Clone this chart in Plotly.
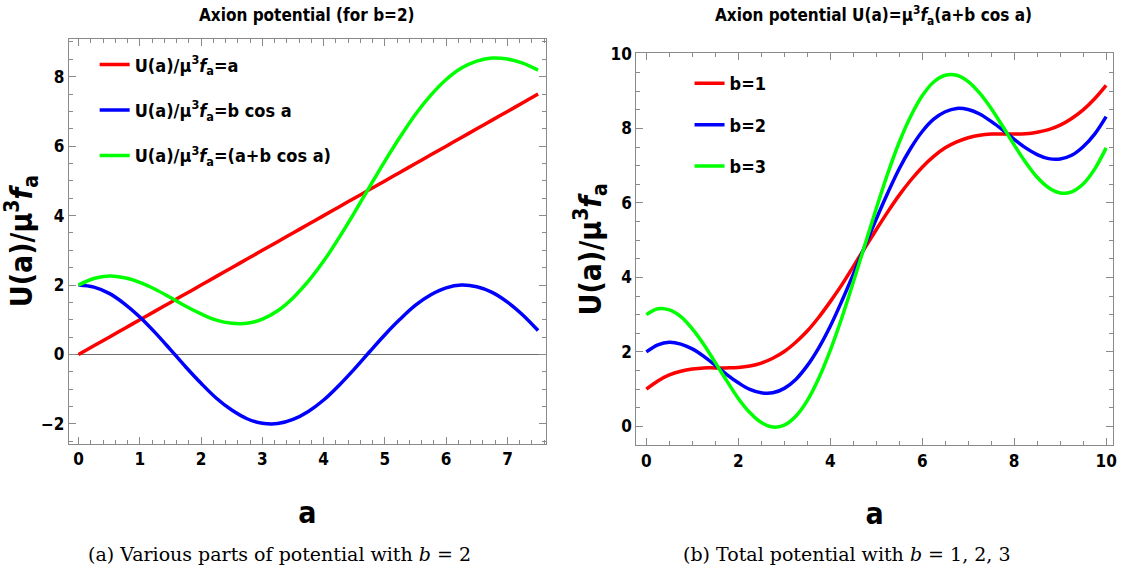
import plotly.graph_objects as go

# ---------------- data ----------------
# Left panel (b = 2)
a_left = [0.0, 0.25, 0.5, 0.75, 1.0, 1.25, 1.5, 1.75, 2.0, 2.25, 2.5, 2.75, 3.0, 3.25, 3.5, 3.75,
          4.0, 4.25, 4.5, 4.75, 5.0, 5.25, 5.5, 5.75, 6.0, 6.25, 6.5, 6.75, 7.0, 7.25, 7.5]
u_linear = [0.0, 0.25, 0.5, 0.75, 1.0, 1.25, 1.5, 1.75, 2.0, 2.25, 2.5, 2.75, 3.0, 3.25, 3.5, 3.75,
            4.0, 4.25, 4.5, 4.75, 5.0, 5.25, 5.5, 5.75, 6.0, 6.25, 6.5, 6.75, 7.0, 7.25, 7.5]
u_cos = [2.00, 1.94, 1.76, 1.46, 1.08, 0.63, 0.14, -0.36, -0.83, -1.26, -1.60, -1.85, -1.98, -1.99,
         -1.87, -1.64, -1.31, -0.89, -0.42, 0.08, 0.57, 1.02, 1.42, 1.72, 1.92, 2.00, 1.95, 1.79,
         1.51, 1.14, 0.69]
u_total = [2.00, 2.19, 2.26, 2.21, 2.08, 1.88, 1.64, 1.39, 1.17, 0.99, 0.90, 0.90, 1.02, 1.26,
           1.63, 2.11, 2.69, 3.36, 4.08, 4.83, 5.57, 6.27, 6.92, 7.47, 7.92, 8.25, 8.45, 8.54,
           8.51, 8.39, 8.19]
names_left = ["U(a)/μ<sup>3</sup><i>f</i><sub>a</sub>=a",
              "U(a)/μ<sup>3</sup><i>f</i><sub>a</sub>=b cos a",
              "U(a)/μ<sup>3</sup><i>f</i><sub>a</sub>=(a+b cos a)"]
xticks_left = [0, 1, 2, 3, 4, 5, 6, 7]
yticks_left = [-2, 0, 2, 4, 6, 8]

# Right panel (b = 1, 2, 3)
a_right = [0.0, 0.25, 0.5, 0.75, 1.0, 1.25, 1.5, 1.75, 2.0, 2.25, 2.5, 2.75, 3.0, 3.25, 3.5, 3.75,
           4.0, 4.25, 4.5, 4.75, 5.0, 5.25, 5.5, 5.75, 6.0, 6.25, 6.5, 6.75, 7.0, 7.25, 7.5, 7.75,
           8.0, 8.25, 8.5, 8.75, 9.0, 9.25, 9.5, 9.75, 10.0]
u_b1 = [1.00, 1.22, 1.38, 1.48, 1.54, 1.57, 1.57, 1.57, 1.58, 1.62, 1.70, 1.83, 2.01, 2.26, 2.56,
        2.93, 3.35, 3.80, 4.29, 4.79, 5.28, 5.76, 6.21, 6.61, 6.96, 7.25, 7.48, 7.64, 7.75, 7.82,
        7.85, 7.85, 7.85, 7.86, 7.90, 7.97, 8.09, 8.27, 8.50, 8.80, 9.16]
u_b2 = [2.00, 2.19, 2.26, 2.21, 2.08, 1.88, 1.64, 1.39, 1.17, 0.99, 0.90, 0.90, 1.02, 1.26, 1.63,
        2.11, 2.69, 3.36, 4.08, 4.83, 5.57, 6.27, 6.92, 7.47, 7.92, 8.25, 8.45, 8.54, 8.51, 8.39,
        8.19, 7.96, 7.71, 7.48, 7.30, 7.19, 7.18, 7.28, 7.51, 7.85, 8.32]
u_b3 = [3.00, 3.16, 3.13, 2.95, 2.62, 2.20, 1.71, 1.22, 0.75, 0.37, 0.10, -0.02, 0.03, 0.27, 0.69,
        1.29, 2.04, 2.91, 3.87, 4.86, 5.85, 6.79, 7.63, 8.33, 8.88, 9.25, 9.43, 9.43, 9.26, 8.95,
        8.54, 8.06, 7.56, 7.09, 6.69, 6.41, 6.27, 6.30, 6.51, 6.91, 7.48]
names_right = ["b=1", "b=2", "b=3"]
xticks_right = [0, 2, 4, 6, 8, 10]
yticks_right = [0, 2, 4, 6, 8, 10]

colors = ["#ff0000", "#0000ff", "#00ff00"]

# ---------------- figure ----------------
W, H = 1126, 572
SANS = "DejaVu Sans Condensed, Roboto, Liberation Sans, sans-serif"
SERIF = "DejaVu Serif, Liberation Serif, serif"
FRAME = "#8a8a8a"

fig = go.Figure()

for i, (ys, nm) in enumerate(zip([u_linear, u_cos, u_total], names_left)):
    fig.add_trace(go.Scatter(x=a_left, y=ys, mode="lines", name=nm,
                             line=dict(color=colors[i], width=3.5, shape="spline", smoothing=1.0),
                             xaxis="x", yaxis="y", legend="legend", legendgroup="L%d" % i))

for i, (ys, nm) in enumerate(zip([u_b1, u_b2, u_b3], names_right)):
    fig.add_trace(go.Scatter(x=a_right, y=ys, mode="lines", name=nm,
                             line=dict(color=colors[i], width=3.5, shape="spline", smoothing=1.0),
                             xaxis="x2", yaxis="y2", legend="legend2", legendgroup="R%d" % i))


def px_x(p):
    return p / W


def px_y(p):
    return 1 - p / H


def bold_labels(vals):
    return ["<b>%s</b>" % ("\u2212%d" % -v if v < 0 else "%d" % v) for v in vals]


tickfont = dict(family=SANS, size=17, color="black")
axis_common = dict(showline=True, mirror="allticks", linecolor=FRAME, linewidth=1,
                   ticks="inside", tickcolor=FRAME, ticklen=7, tickwidth=1,
                   showgrid=False, tickfont=tickfont, fixedrange=True, tickmode="array")
ytitle_font = dict(family=SANS, size=30, color="black")
xtitle_font = dict(family=SANS, size=30, color="black")
ytitle = "<b>U(a)/μ<sup>3</sup><i>f</i><sub>a</sub></b>"
legend_font = dict(family=SANS, size=18, color="black", weight="bold")

fig.update_layout(
    width=W, height=H,
    margin=dict(l=0, r=0, t=0, b=0),
    paper_bgcolor="white", plot_bgcolor="white",
    xaxis=dict(domain=[px_x(69), px_x(548)], range=[-0.16, 7.63],
               tickvals=xticks_left, ticktext=bold_labels(xticks_left),
               zeroline=False, anchor="y",
               minor=dict(dtick=0.2, tick0=0, ticks="inside", ticklen=4, tickcolor=FRAME),
               title=dict(text="<b>a</b>", font=xtitle_font, standoff=33),
               **axis_common),
    yaxis=dict(domain=[px_y(441.7), px_y(30)], range=[-2.57, 9.1],
               tickvals=yticks_left, ticktext=bold_labels(yticks_left),
               zeroline=True, zerolinecolor="#6e6e6e", zerolinewidth=1, anchor="x",
               minor=dict(dtick=0.5, tick0=0, ticks="inside", ticklen=4, tickcolor=FRAME),
               title=dict(text=ytitle, font=ytitle_font, standoff=3),
               **axis_common),
    xaxis2=dict(domain=[px_x(638.5), px_x(1117)], range=[-0.22, 10.15],
                tickvals=xticks_right, ticktext=bold_labels(xticks_right),
                zeroline=False, anchor="y2",
                minor=dict(dtick=0.5, tick0=0, ticks="inside", ticklen=4, tickcolor=FRAME),
                title=dict(text="<b>a</b>", font=xtitle_font, standoff=33),
                **axis_common),
    yaxis2=dict(domain=[px_y(443.3), px_y(45)], range=[-0.51, 10.02],
                tickvals=yticks_right, ticktext=bold_labels(yticks_right),
                zeroline=False, anchor="x2",
                minor=dict(dtick=0.5, tick0=0, ticks="inside", ticklen=4, tickcolor=FRAME),
                title=dict(text=ytitle, font=ytitle_font, standoff=0),
                **axis_common),
    legend=dict(x=px_x(95), y=px_y(38), xanchor="left", yanchor="top",
                bgcolor="rgba(0,0,0,0)", borderwidth=0, tracegroupgap=19,
                font=legend_font),
    legend2=dict(x=px_x(692), y=px_y(57), xanchor="left", yanchor="top",
                 bgcolor="rgba(0,0,0,0)", borderwidth=0, tracegroupgap=15,
                 font=legend_font),
    showlegend=True,
)

annotations = [
    dict(text="<b>Axion potential (for b=2)</b>", x=px_x(308), y=px_y(6), xref="paper", yref="paper",
         xanchor="center", yanchor="middle", showarrow=False,
         font=dict(family=SANS, size=17, color="black")),
    dict(text="<b>Axion potential U(a)=μ<sup>3</sup><i>f</i><sub>a</sub>(a+b cos a)</b>",
         x=px_x(877), y=px_y(7), xref="paper", yref="paper",
         xanchor="center", yanchor="middle", showarrow=False,
         font=dict(family=SANS, size=17, color="black")),
    dict(text="(a) Various parts of potential with <i>b</i> = 2", x=px_x(280), y=px_y(554),
         xref="paper", yref="paper", xanchor="center", yanchor="middle", showarrow=False,
         font=dict(family=SERIF, size=19, color="black")),
    dict(text="(b) Total potential with <i>b</i> = 1, 2, 3", x=px_x(850), y=px_y(554),
         xref="paper", yref="paper", xanchor="center", yanchor="middle", showarrow=False,
         font=dict(family=SERIF, size=19, color="black")),
]
fig.update_layout(annotations=annotations)

fig.write_html("out.html", config={"displayModeBar": False},
               post_script="document.body.style.margin='0';document.body.style.overflow='hidden';")
